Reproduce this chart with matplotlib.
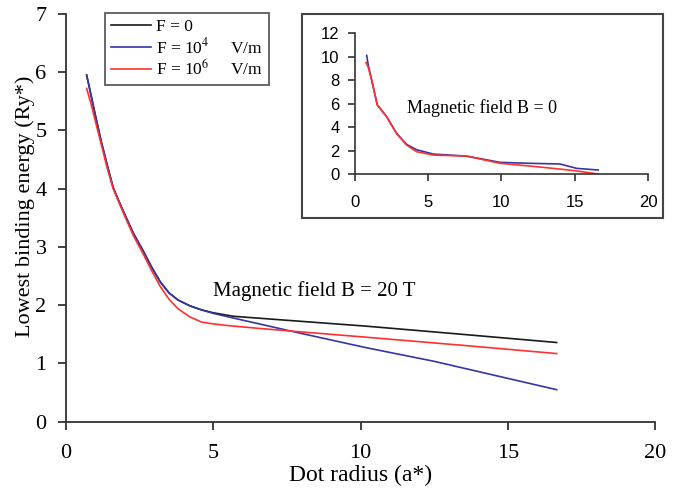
import matplotlib
matplotlib.use("Agg")
import matplotlib.pyplot as plt
from matplotlib.patches import Rectangle

plt.rcParams['font.family'] = ['Liberation Serif', 'DejaVu Serif']
plt.rcParams['mathtext.fontset'] = 'stix'

# Main chart (B = 20 T)
x_f0 = [0.70, 0.85, 1.0, 1.2, 1.4, 1.6, 1.8, 2.0, 2.3, 2.6, 2.9, 3.2, 3.5, 3.8, 4.2, 4.6, 5.0, 5.68, 7.0, 10.2, 13.0, 16.66]
y_f0 = [5.95, 5.60, 5.25, 4.80, 4.40, 4.02, 3.78, 3.55, 3.22, 2.95, 2.66, 2.40, 2.21, 2.09, 1.99, 1.92, 1.87, 1.81, 1.76, 1.64, 1.52, 1.36]

x_f4 = [0.70, 0.85, 1.0, 1.2, 1.4, 1.6, 1.8, 2.0, 2.3, 2.6, 2.9, 3.2, 3.5, 3.8, 4.2, 4.6, 5.0, 5.68, 7.95, 10.2, 12.47, 16.66]
y_f4 = [5.95, 5.60, 5.25, 4.80, 4.40, 4.02, 3.78, 3.55, 3.22, 2.95, 2.66, 2.40, 2.21, 2.09, 1.99, 1.92, 1.86, 1.78, 1.52, 1.27, 1.04, 0.55]

x_f6 = [0.70, 0.85, 1.0, 1.2, 1.4, 1.6, 1.8, 2.0, 2.3, 2.6, 2.9, 3.2, 3.5, 3.8, 4.2, 4.6, 5.0, 5.5, 6.59, 10.21, 13.5, 16.66]
y_f6 = [5.72, 5.45, 5.15, 4.75, 4.35, 4.00, 3.76, 3.52, 3.18, 2.90, 2.60, 2.32, 2.10, 1.94, 1.80, 1.71, 1.68, 1.65, 1.60, 1.45, 1.31, 1.17]

# Inset (B = 0)
xi_f4 = [0.80, 0.9, 1.14, 1.52, 2.16, 2.84, 3.53, 4.21, 5.35, 7.62, 9.9, 11.9, 14.0, 15.13, 16.6]
yi_f4 = [10.1, 9.3, 8.0, 5.9, 4.9, 3.48, 2.55, 2.1, 1.73, 1.56, 1.03, 0.95, 0.89, 0.52, 0.38]
xi_f6 = [0.75, 0.9, 1.14, 1.52, 2.16, 2.84, 3.53, 4.21, 5.35, 7.62, 9.9, 11.9, 14.0, 15.13, 16.6]
yi_f6 = [9.5, 9.1, 8.0, 5.9, 4.9, 3.48, 2.49, 1.93, 1.65, 1.56, 0.95, 0.72, 0.46, 0.30, 0.04]

labels = ['F = 0', 'F = 10$^4$     V/m', 'F = 10$^6$     V/m']
colors = ['#1a1a1a', '#3535a5', '#ff3030']

fig = plt.figure(figsize=(6.9, 4.95), dpi=100)
ax = fig.add_axes([0.0957, 0.148, 0.8536, 0.824])
ax.plot(x_f0, y_f0, color=colors[0], lw=1.2, label=labels[0])
ax.plot(x_f4, y_f4, color=colors[1], lw=1.2, label=labels[1])
ax.plot(x_f6, y_f6, color=colors[2], lw=1.2, label=labels[2])
ax.set_xlim(0, 20)
ax.set_ylim(0, 7)
ax.set_xticks([0, 5, 10, 15, 20])
ax.set_yticks(range(0, 8))
for s in ['top', 'right']:
    ax.spines[s].set_visible(False)
for s in ['left', 'bottom']:
    ax.spines[s].set_color('#333333')
    ax.spines[s].set_linewidth(1.3)
ax.tick_params(direction='out', length=6, width=1.3, color='#333333',
               labelsize=16)
ax.tick_params(axis='y', pad=8)
ax.tick_params(axis='x', pad=10)
ax.set_xlabel('Dot radius (a*)', fontsize=17)
ax.xaxis.set_label_coords(0.5, -0.105)
ax.set_ylabel('Lowest binding energy (Ry*)', fontsize=16)
ax.yaxis.set_label_coords(-0.052, 0.527)
ax.text(4.99, 2.243, 'Magnetic field B = 20 T', fontsize=15, va='center')

leg = ax.legend(loc='upper left', bbox_to_anchor=(105/690, 1 - 13/495),
                bbox_transform=fig.transFigure, fontsize=12.5, frameon=True,
                fancybox=False, handlelength=2.3, labelspacing=0.1,
                borderpad=0.35, handletextpad=0.3, borderaxespad=0)
leg.get_frame().set_edgecolor('#333333')
leg.get_frame().set_linewidth(1.3)

# inset frame
fig.patches.append(Rectangle((302/690, 1 - 218/495), 361/690, 204/495,
                             transform=fig.transFigure, fill=False,
                             edgecolor='#444444', linewidth=1.5, zorder=5))

axi = fig.add_axes([355/690, 1 - 174.5/495, 293/690, 141.5/495])
axi.plot(xi_f4, yi_f4, color=colors[1], lw=1.2)
axi.plot(xi_f6, yi_f6, color=colors[2], lw=1.2)
axi.set_xlim(0, 20)
axi.set_ylim(0, 12)
axi.set_xticks([0, 5, 10, 15, 20])
axi.set_yticks(range(0, 13, 2))
for s in ['top', 'right']:
    axi.spines[s].set_visible(False)
for s in ['left', 'bottom']:
    axi.spines[s].set_color('#333333')
    axi.spines[s].set_linewidth(1.2)
axi.tick_params(direction='out', length=5, width=1.2, color='#333333',
                labelsize=12)
axi.tick_params(axis='y', pad=6)
axi.tick_params(axis='x', pad=10)
for lab in axi.get_xticklabels() + axi.get_yticklabels():
    lab.set_family(['Liberation Sans', 'DejaVu Sans'])
axi.text(3.57, 5.64, 'Magnetic field B = 0', fontsize=13, va='center')

fig.savefig('out.png', dpi=100)
